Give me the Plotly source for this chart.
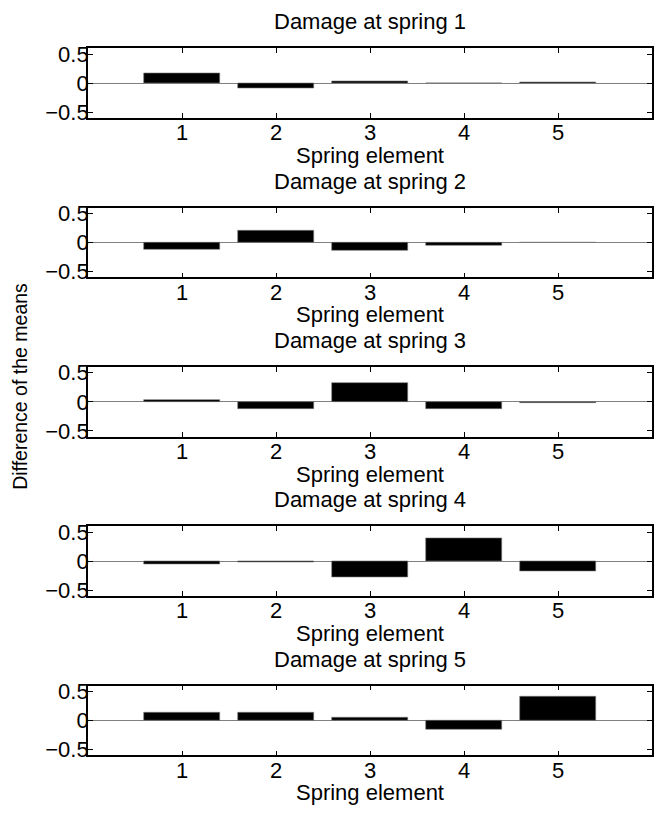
import plotly.graph_objects as go

springs = [1, 2, 3, 4, 5]
damage_titles = ["Damage at spring 1", "Damage at spring 2", "Damage at spring 3",
                 "Damage at spring 4", "Damage at spring 5"]
diff_d1 = [0.165, -0.09, 0.025, 0.006, 0.012]
diff_d2 = [-0.125, 0.21, -0.14, -0.055, -0.003]
diff_d3 = [0.035, -0.115, 0.33, -0.115, -0.02]
diff_d4 = [-0.055, -0.025, -0.27, 0.39, -0.175]
diff_d5 = [0.14, 0.14, 0.05, -0.155, 0.41]
all_diffs = [diff_d1, diff_d2, diff_d3, diff_d4, diff_d5]
y_ticks = [-0.5, 0, 0.5]
y_tick_text = ["\u22120.5", "0", "0.5"]
x_label = "Spring element"
y_label = "Difference of the means"

W, H = 654, 815
FONT = "Liberation Sans, Arial, Helvetica, sans-serif"
FS = 22

fig = go.Figure()
left_px, right_px = 88, 652
top0, ax_h, step = 43, 71, 161.9

annotations = []
for i, vals in enumerate(all_diffs):
    n = i + 1
    xa = "x" if n == 1 else f"x{n}"
    ya = "y" if n == 1 else f"y{n}"
    fig.add_trace(go.Bar(x=springs, y=vals, width=0.8, marker=dict(color="black", line=dict(width=0.6, color="#777777")),
                         xaxis=xa, yaxis=ya, showlegend=False))
    t = top0 + i * step
    b = t + ax_h
    dom_y = [1 - b / H, 1 - t / H]
    xkey = "xaxis" if n == 1 else f"xaxis{n}"
    ykey = "yaxis" if n == 1 else f"yaxis{n}"
    fig.update_layout(**{
        xkey: dict(domain=[left_px / W, right_px / W], range=[0, 6], anchor=ya,
                   tickvals=springs, ticks="inside", ticklen=5, tickcolor="black", tickwidth=1,
                   showline=True, linecolor="black", linewidth=1.8, mirror="ticks",
                   showgrid=False, zeroline=False, ticklabelstandoff=-6,
                   tickfont=dict(family=FONT, size=FS, color="black")),
        ykey: dict(domain=dom_y, range=[-0.6, 0.6], anchor=xa,
                   tickvals=y_ticks, ticktext=y_tick_text, ticks="inside", ticklen=5,
                   tickcolor="black", tickwidth=1,
                   showline=True, linecolor="black", linewidth=1.8, mirror="ticks",
                   showgrid=False, zeroline=True, zerolinecolor="#808080", zerolinewidth=1.2,
                   ticklabelstandoff=-7,
                   tickfont=dict(family=FONT, size=FS, color="black")),
    })
    annotations.append(dict(text=damage_titles[i], xref="paper", yref="paper",
                            x=(left_px + right_px) / 2 / W, y=1 - (t - 27) / H,
                            xanchor="center", yanchor="middle", showarrow=False,
                            font=dict(family=FONT, size=FS, color="black")))
    annotations.append(dict(text=x_label, xref="paper", yref="paper",
                            x=(left_px + right_px) / 2 / W, y=1 - (b + 38) / H,
                            xanchor="center", yanchor="middle", showarrow=False,
                            font=dict(family=FONT, size=FS, color="black")))

annotations.append(dict(text=y_label, xref="paper", yref="paper", x=20 / W, y=1 - 387 / H,
                        xanchor="center", yanchor="middle", textangle=-90, showarrow=False,
                        font=dict(family=FONT, size=19.5, color="black")))

fig.update_layout(width=W, height=H, margin=dict(l=0, r=0, t=0, b=0),
                  paper_bgcolor="white", plot_bgcolor="white", bargap=0,
                  annotations=annotations)
fig.write_html("out.html")
